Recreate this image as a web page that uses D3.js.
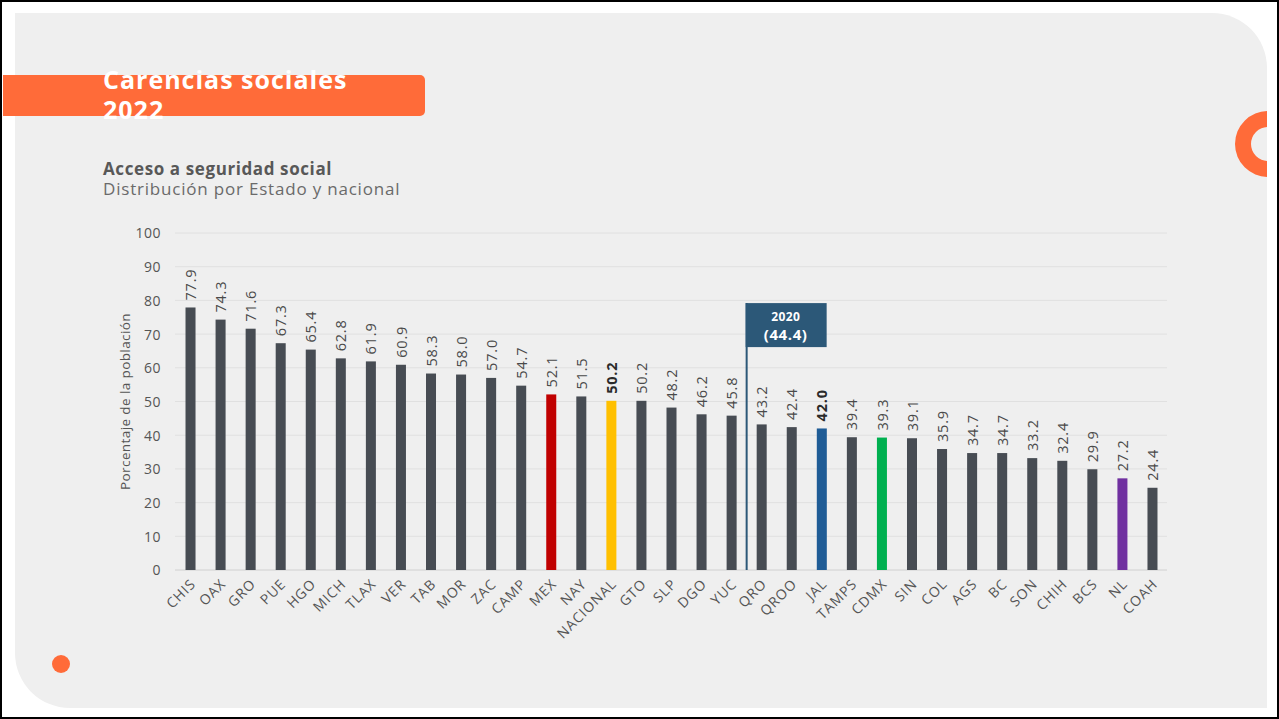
<!DOCTYPE html>
<html><head><meta charset="utf-8">
<script src="https://cdn.jsdelivr.net/npm/d3@7"></script>
<style>html,body{margin:0;padding:0;background:#fff;}svg{display:block;}</style>
</head><body>
<script>
const categories = ["CHIS","OAX","GRO","PUE","HGO","MICH","TLAX","VER","TAB","MOR","ZAC","CAMP","MEX","NAY","NACIONAL","GTO","SLP","DGO","YUC","QRO","QROO","JAL","TAMPS","CDMX","SIN","COL","AGS","BC","SON","CHIH","BCS","NL","COAH"];
const values = [77.9,74.3,71.6,67.3,65.4,62.8,61.9,60.9,58.3,58.0,57.0,54.7,52.1,51.5,50.2,50.2,48.2,46.2,45.8,43.2,42.4,42.0,39.4,39.3,39.1,35.9,34.7,34.7,33.2,32.4,29.9,27.2,24.4];
const highlight = {"MEX":"#c00000","NACIONAL":"#ffc000","JAL":"#1f5c96","CDMX":"#00b050","NL":"#7030a0"};
const boldLabels = ["NACIONAL","JAL"];
const yTicks = [0,10,20,30,40,50,60,70,80,90,100];
const annotation = {after:"YUC", before:"QRO", line1:"2020", line2:"(44.4)", top:79.2};

const W=1279,H=719;
const font="'Open Sans', 'Noto Sans', sans-serif";
const svg=d3.select("body").append("svg").attr("width",W).attr("height",H);

// background & panel
svg.append("rect").attr("x",1).attr("y",1).attr("width",W-2).attr("height",H-2).attr("fill","#fff").attr("stroke","#000").attr("stroke-width",2);
const px0=15,py0=13,px1=1267,py1=708,r=55;
svg.append("path").attr("d",`M${px0},${py0} H${px1-r} A${r},${r} 0 0 1 ${px1},${py0+r} V${py1} H${px0+r} A${r},${r} 0 0 1 ${px0},${py1-r} Z`).attr("fill","#efefef");

const orange="#ff6b39";
// ring clipped at panel edge
svg.append("clipPath").attr("id","pc").append("rect").attr("x",0).attr("y",0).attr("width",px1).attr("height",H);
svg.append("g").attr("clip-path","url(#pc)").append("path")
  .attr("d",d3.arc()({innerRadius:17,outerRadius:33,startAngle:0,endAngle:2*Math.PI}))
  .attr("transform","translate(1268,144)").attr("fill",orange);
svg.append("circle").attr("cx",61).attr("cy",664).attr("r",9).attr("fill",orange);

// title band
svg.append("path").attr("d",`M3,75 H420 A5,5 0 0 1 425,80 V111 A5,5 0 0 1 420,116 H3 Z`).attr("fill",orange);
svg.append("text").attr("x",103).attr("y",89).attr("fill","#fff").attr("font-family",font).attr("font-weight",700).attr("font-size",25).attr("letter-spacing",1).text("Carencias sociales");
svg.append("text").attr("x",103).attr("y",119).attr("fill","#fff").attr("font-family",font).attr("font-weight",700).attr("font-size",25).attr("letter-spacing",1).text("2022");
svg.append("text").attr("x",103).attr("y",175).attr("fill","#585858").attr("font-family",font).attr("font-weight",700).attr("font-size",17).attr("letter-spacing",0.6).text("Acceso a seguridad social");
svg.append("text").attr("x",103).attr("y",195).attr("fill","#6a6a6a").attr("font-family",font).attr("font-size",17).attr("letter-spacing",0.8).text("Distribución por Estado y nacional");

// scales
const x=d3.scaleBand().domain(categories).range([175.5,1167.5]).paddingInner(0.667).paddingOuter(0.333);
const y=d3.scaleLinear().domain([0,100]).range([570,233]);

// grid
const g=svg.append("g");
g.selectAll("line.grid").data(yTicks).join("line").attr("class","grid")
  .attr("x1",175).attr("x2",1167).attr("y1",d=>y(d)).attr("y2",d=>y(d))
  .attr("stroke",d=>d===0?"#d0d0d0":"#e0e0e0").attr("stroke-width",1);

// y axis labels
const yAxis=d3.axisLeft(y).tickValues(yTicks).tickSize(0).tickPadding(0);
const ya=svg.append("g").attr("transform","translate(161,0)").call(yAxis);
ya.select(".domain").remove();
ya.selectAll("text").attr("font-family",font).attr("font-size",14).attr("letter-spacing",0.5).attr("fill","#555").attr("dy","0.35em");

svg.append("text").attr("transform",`translate(130,${(y(0)+y(100))/2}) rotate(-90)`)
  .attr("text-anchor","middle").attr("font-family",font).attr("font-size",13.5).attr("letter-spacing",0.4).attr("fill","#555")
  .text("Porcentaje de la población");

// bars
svg.selectAll("rect.bar").data(categories).join("rect").attr("class","bar")
  .attr("x",d=>x(d)).attr("width",x.bandwidth())
  .attr("y",(d,i)=>y(values[i])).attr("height",(d,i)=>y(0)-y(values[i]))
  .attr("fill",d=>highlight[d]||"#474c53");

// value labels
svg.selectAll("text.val").data(categories).join("text").attr("class","val")
  .attr("transform",(d,i)=>`translate(${x(d)+x.bandwidth()/2+0.5},${y(values[i])-7}) rotate(-90)`)
  .attr("dy","0.35em").attr("text-anchor","start")
  .attr("font-family",font).attr("font-size",14.5).attr("letter-spacing",0.8)
  .attr("font-weight",d=>boldLabels.includes(d)?700:400)
  .attr("fill",d=>boldLabels.includes(d)?"#2a2a2a":"#4a4a4a")
  .text((d,i)=>values[i].toFixed(1));

// category labels
const xAxis=d3.axisBottom(x).tickSize(0).tickPadding(0);
const xa=svg.append("g").attr("transform","translate(0,570)").call(xAxis);
xa.select(".domain").remove();
xa.selectAll("text").attr("font-family",font).attr("font-size",14).attr("letter-spacing",0.9).attr("fill","#555")
  .attr("text-anchor","end").attr("dy",null).attr("y",0)
  .attr("transform","translate(6,15) rotate(-45)");

// annotation
const ax=(x(annotation.after)+x.bandwidth()+x(annotation.before))/2;
const aTop=y(annotation.top);
svg.append("line").attr("x1",ax).attr("x2",ax).attr("y1",aTop).attr("y2",y(0)).attr("stroke","#2c5878").attr("stroke-width",2);
svg.append("rect").attr("x",ax-1).attr("y",aTop).attr("width",81).attr("height",44).attr("fill","#2c5878");
svg.append("text").attr("x",ax+39).attr("y",aTop+18).attr("text-anchor","middle").attr("fill","#fff").attr("font-family",font).attr("font-weight",700).attr("font-size",12).attr("letter-spacing",0.4).text(annotation.line1);
svg.append("text").attr("x",ax+39).attr("y",aTop+37).attr("text-anchor","middle").attr("fill","#fff").attr("font-family",font).attr("font-weight",700).attr("font-size",15).attr("letter-spacing",0.6).text(annotation.line2);
</script>
</body></html>
